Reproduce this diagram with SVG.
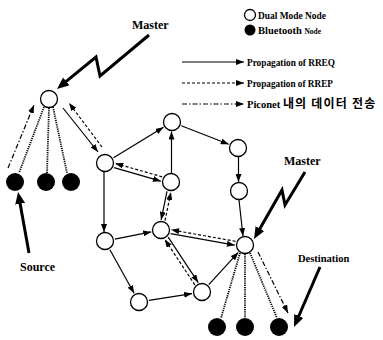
<svg xmlns="http://www.w3.org/2000/svg" width="383" height="340" viewBox="0 0 383 340">
<style>
.n{fill:#fff;stroke:#000;stroke-width:1.3}
.f{fill:#000}
.s{fill:none;stroke:#000;stroke-width:1.2;marker-end:url(#ah)}
.d{stroke-dasharray:3 2}
.dd{stroke-dasharray:5 2 1.5 2}
.dot{fill:none;stroke:#000;stroke-width:1.8;stroke-dasharray:1.2 1}
.bolt{fill:none;stroke:#000;stroke-width:3;stroke-linejoin:miter;marker-end:url(#big)}
text{font-family:"Liberation Serif","Times New Roman",serif;font-weight:bold;fill:#000}
.kr{font-family:"Noto Sans CJK KR","Liberation Serif",sans-serif}
</style>
<defs>
<marker id="ah" viewBox="0 0 8 6" refX="8" refY="3" markerWidth="8" markerHeight="6" markerUnits="userSpaceOnUse" orient="auto"><path d="M0,0 L8,3 L0,6 z"/></marker>
<marker id="big" viewBox="0 0 12 10" refX="6" refY="5" markerWidth="12" markerHeight="10" markerUnits="userSpaceOnUse" orient="auto"><path d="M0,0 L12,5 L0,10 z"/></marker>
</defs>

<g id="legend">
<circle class="n" cx="250" cy="15" r="5.5"/>
<text x="258" y="19" font-size="10.5" textLength="68" lengthAdjust="spacingAndGlyphs">Dual Mode Node</text>
<circle class="f" cx="250" cy="30" r="5.5"/>
<text x="258" y="34" font-size="10.5">Bluetooth <tspan font-size="7.5">Node</tspan></text>
<path class="s" d="M182,62 L244,62"/>
<text x="247" y="66" font-size="10.5" textLength="88" lengthAdjust="spacingAndGlyphs">Propagation of RREQ</text>
<path class="s d" d="M182,83 L244,83"/>
<text x="247" y="87" font-size="10.5" textLength="86" lengthAdjust="spacingAndGlyphs">Propagation of RREP</text>
<path class="s dd" d="M182,104 L244,104"/>
<text x="247" y="108" font-size="10.5">Piconet <tspan class="kr" font-size="12" letter-spacing="1.2">내의 데이터 전송</tspan></text>
</g>

<g id="labels">
<text x="132" y="29" font-size="12">Master</text>
<text x="284" y="165" font-size="12">Master</text>
<text x="20" y="271" font-size="12">Source</text>
<text x="298" y="262" font-size="10.5">Destination</text>
</g>

<g id="connectors">
<path class="bolt" d="M149,35 L100,76 L96,57 L61.6,85.2"/>
<path class="bolt" d="M305,172 L285,205 L282,190 L257,233.8"/>
<path class="bolt" d="M29,253 L19.1,197.9"/>
<path class="bolt" d="M320,267 L296.4,321.5"/>

<path class="s" d="M63,108 L98,152"/>
<path class="s d" d="M102,147 L69,103"/>
<path class="s" d="M113.5,157.8 L163.5,127.2"/>
<path class="s" d="M114.1,167.7 L160.8,181.2"/>
<path class="s d" d="M162.1,176.8 L115.3,163.4"/>
<path class="s" d="M171.5,173 L171.5,131.5"/>
<path class="s" d="M181.3,125.7 L228.7,144.3"/>
<path class="s" d="M238.5,157 L238.5,182"/>
<path class="s" d="M239,200 L243,236"/>
<path class="s" d="M104,172 L104,232"/>
<path class="s" d="M114.8,239.1 L151.2,231.9"/>
<path class="s" d="M167,191.4 L161.1,219.8"/>
<path class="s d" d="M165,220.6 L170.9,192.2"/>
<path class="s" d="M170.5,233.7 L234.8,245.2"/>
<path class="s d" d="M235.5,241.3 L171.2,229.8"/>
<path class="s" d="M168.2,237.2 L198.2,282.6"/>
<path class="s d" d="M194.8,284.8 L164.8,239.4"/>
<path class="s" d="M109.9,249.7 L134.1,293.3"/>
<path class="s" d="M148.9,300.4 L192.1,293.6"/>
<path class="s" d="M208.8,284.6 L238.3,252.4"/>

<path class="dot" d="M44,107 L19,173"/>
<path class="dot" d="M49,108 L47,173"/>
<path class="dot" d="M53,107 L67,173"/>
<path class="s dd" d="M8,168 L34,105"/>
<path class="dot" d="M240,253 L221,318"/>
<path class="dot" d="M245,254 L245,318"/>
<path class="dot" d="M250,253 L277,318"/>
<path class="s dd" d="M258,252 L288,313"/>
</g>

<g id="nA"><circle class="n" cx="49" cy="99" r="8.5"/></g>
<g id="nB"><circle class="n" cx="105" cy="163" r="8.5"/></g>
<g id="nC"><circle class="n" cx="172" cy="122" r="8.5"/></g>
<g id="nD"><circle class="n" cx="171" cy="182" r="8.5"/></g>
<g id="nE"><circle class="n" cx="238" cy="148" r="8.5"/></g>
<g id="nF"><circle class="n" cx="239" cy="191" r="8.5"/></g>
<g id="nG"><circle class="n" cx="105" cy="241" r="8.5"/></g>
<g id="nH"><circle class="n" cx="161" cy="230" r="8.5"/></g>
<g id="nI"><circle class="n" cx="139" cy="302" r="8.5"/></g>
<g id="nJ"><circle class="n" cx="202" cy="292" r="8.5"/></g>
<g id="nK"><circle class="n" cx="245" cy="245" r="8.5"/></g>
<g id="bL1"><circle class="f" cx="15" cy="182" r="9"/></g>
<g id="bL2"><circle class="f" cx="46" cy="182" r="9"/></g>
<g id="bL3"><circle class="f" cx="71" cy="182" r="9"/></g>
<g id="bM1"><circle class="f" cx="217" cy="327" r="9"/></g>
<g id="bM2"><circle class="f" cx="245" cy="327" r="9"/></g>
<g id="bM3"><circle class="f" cx="279" cy="327" r="9"/></g>
</svg>
